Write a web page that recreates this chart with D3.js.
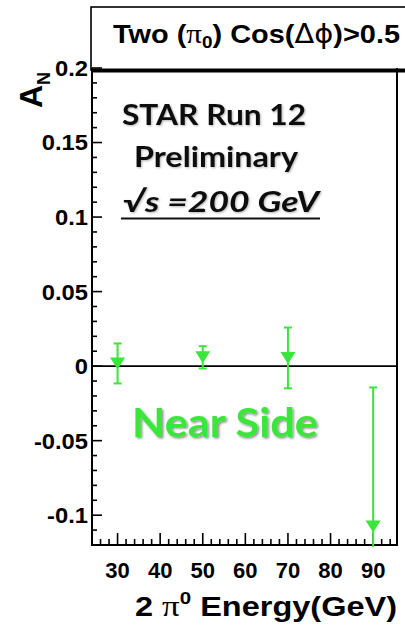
<!DOCTYPE html>
<html>
<head>
<meta charset="utf-8">
<script src="https://cdn.jsdelivr.net/npm/d3@7"></script>
<style>
  html, body { margin: 0; padding: 0; background: #fff; }
  svg { display: block; }
</style>
</head>
<body>
<svg id="chart" width="405" height="627"></svg>
<script>
// Pair energy bins (GeV) and measured asymmetry A_N with statistical errors
const energy = [30, 50, 70, 90];
const asym = [0.0018, 0.0059, 0.0055, -0.1076];
const asymErr = [0.0134, 0.0075, 0.0204, 0.0933];

// Axis ranges and labelled ticks
const xDomain = [24, 95.6];
const yDomain = [-0.12, 0.2];
const xTickLabels = [30, 40, 50, 60, 70, 80, 90];
const yTickLabels = [-0.1, -0.05, 0, 0.05, 0.1, 0.15, 0.2];

const W = 405, H = 627;
const fLeft = 92, fRight = 397, fTop = 68, fBottom = 545;
const green = "#3be63b";
const axisFont = "'Liberation Sans', Arial, sans-serif";
const symFont = "'Liberation Serif', 'DejaVu Serif', serif";
const slideFont = "Lato, 'Open Sans', sans-serif";

const svg = d3.select("#chart");

const x = d3.scaleLinear().domain(xDomain).range([fLeft, fRight]);
const y = d3.scaleLinear().domain(yDomain).range([fBottom, fTop]);

const defs = svg.append("defs");
defs.append("clipPath").attr("id", "plotClip")
  .append("rect").attr("x", fLeft).attr("y", fTop).attr("width", fRight - fLeft).attr("height", fBottom - fTop + 2);
const sh = defs.append("filter").attr("id", "shadow").attr("x", "-10%").attr("y", "-10%").attr("width", "130%").attr("height", "140%");
sh.append("feDropShadow").attr("dx", 1.5).attr("dy", 1.5).attr("stdDeviation", 0.8).attr("flood-color", "#000").attr("flood-opacity", 0.45);
const shLight = defs.append("filter").attr("id", "shadowLight").attr("x", "-10%").attr("y", "-10%").attr("width", "130%").attr("height", "140%");
shLight.append("feDropShadow").attr("dx", 1).attr("dy", 1).attr("stdDeviation", 0.8).attr("flood-color", "#000").attr("flood-opacity", 0.3);

// Title box above the frame
svg.append("rect")
  .attr("x", 91).attr("y", 7).attr("width", 330).attr("height", 63)
  .attr("fill", "#fff").attr("stroke", "#000").attr("stroke-width", 1.6);

const title = svg.append("text")
  .attr("x", 113).attr("y", 43)
  .attr("textLength", 287).attr("lengthAdjust", "spacingAndGlyphs")
  .attr("font-family", axisFont).attr("font-weight", "bold").attr("font-size", 26)
  .attr("fill", "#000");
title.append("tspan").text("Two (");
title.append("tspan").attr("font-family", symFont).attr("font-weight", "normal").attr("font-size", 28).text("π");
title.append("tspan").attr("font-size", 17).attr("dy", 5).text("0");
title.append("tspan").attr("dy", -5).text(") Cos(");
title.append("tspan").attr("font-family", "'DejaVu Sans', sans-serif").attr("font-weight", "normal").text("Δϕ");
title.append("tspan").text(")>0.5");

// Frame: left and bottom axes, right border, zero line
const frame = svg.append("g").attr("stroke", "#000").attr("fill", "none");
frame.append("line").attr("x1", fLeft).attr("x2", fLeft).attr("y1", fTop).attr("y2", fBottom + 1).attr("stroke-width", 2);
frame.append("line").attr("x1", fLeft - 1).attr("x2", fRight + 1).attr("y1", fBottom).attr("y2", fBottom).attr("stroke-width", 2);
frame.append("line").attr("x1", fRight).attr("x2", fRight).attr("y1", fTop).attr("y2", fBottom + 1).attr("stroke-width", 2);
frame.append("line").attr("x1", fLeft).attr("x2", fRight).attr("y1", y(0)).attr("y2", y(0)).attr("stroke-width", 1.6);
svg.append("line").attr("x1", 91).attr("x2", W).attr("y1", 70.5).attr("y2", 70.5)
  .attr("stroke", "#000").attr("stroke-width", 4);

// Y ticks: majors every 0.05, minors every 0.01, pointing into the frame
const yMinor = d3.range(-12, 21).map(i => i / 100);
const yAxis = svg.append("g").attr("stroke", "#000").attr("stroke-width", 1.6);
yAxis.selectAll("line").data(yMinor).join("line")
  .attr("x1", fLeft).attr("x2", d => fLeft + (Math.abs(Math.round(d * 100)) % 5 === 0 ? 10 : 5))
  .attr("y1", d => y(d)).attr("y2", d => y(d));
svg.append("g").selectAll("text").data(yTickLabels).join("text")
  .attr("transform", d => `translate(${fLeft - 4},${y(d)}) scale(1.08,1)`)
  .attr("dy", "0.36em").attr("text-anchor", "end")
  .attr("font-family", axisFont).attr("font-weight", "bold").attr("font-size", 22)
  .text(d => d === 0 ? "0" : String(d));

// X ticks: majors every 10 GeV, minors every 2 GeV
const xMinor = d3.range(26, 96, 2);
const xAxis = svg.append("g").attr("stroke", "#000").attr("stroke-width", 1.6);
xAxis.selectAll("line").data(xMinor).join("line")
  .attr("x1", d => x(d)).attr("x2", d => x(d))
  .attr("y1", fBottom).attr("y2", d => fBottom - (d % 10 === 0 ? 12 : 6));
svg.append("g").selectAll("text").data(xTickLabels).join("text")
  .attr("x", d => x(d)).attr("y", 578)
  .attr("text-anchor", "middle")
  .attr("font-family", axisFont).attr("font-weight", "bold").attr("font-size", 22)
  .text(d => d);

// Axis titles
const xt = svg.append("text").attr("x", 135).attr("y", 616)
  .attr("textLength", 262).attr("lengthAdjust", "spacingAndGlyphs")
  .attr("font-family", axisFont).attr("font-weight", "bold").attr("font-size", 27);
xt.append("tspan").text("2 ");
xt.append("tspan").attr("font-family", symFont).attr("font-weight", "normal").attr("font-size", 29).text("π");
xt.append("tspan").attr("font-size", 17).attr("dy", -12).text("0");
xt.append("tspan").attr("dy", 12).text(" Energy(GeV)");

const yt = svg.append("text").attr("transform", "translate(42,108) rotate(-90)")
  .attr("font-family", axisFont).attr("font-weight", "bold").attr("font-size", 32);
yt.append("tspan").text("A");
yt.append("tspan").attr("font-size", 18).attr("dy", 8).text("N");

// Slide annotations
const ann = svg.append("g").attr("font-family", slideFont).attr("fill", "#111").attr("font-weight", "bold");
ann.append("text").attr("x", 122).attr("y", 125).attr("font-size", 28)
  .attr("textLength", 184).attr("lengthAdjust", "spacingAndGlyphs")
  .attr("filter", "url(#shadowLight)").text("STAR Run 12");
ann.append("text").attr("x", 134).attr("y", 167).attr("font-size", 28)
  .attr("textLength", 164).attr("lengthAdjust", "spacingAndGlyphs")
  .attr("filter", "url(#shadowLight)").text("Preliminary");
ann.append("text").attr("x", 123).attr("y", 212).attr("font-size", 29)
  .attr("font-style", "italic")
  .attr("textLength", 196).attr("lengthAdjust", "spacingAndGlyphs")
  .attr("filter", "url(#shadowLight)").text("√s =200 GeV");
svg.append("line").attr("x1", 121).attr("x2", 320).attr("y1", 218.5).attr("y2", 218.5)
  .attr("stroke", "#111").attr("stroke-width", 2.2);
ann.append("text").attr("x", 132).attr("y", 437).attr("font-size", 40)
  .attr("textLength", 186).attr("lengthAdjust", "spacingAndGlyphs")
  .attr("fill", green).attr("filter", "url(#shadow)").text("Near Side");

// Data points with error bars
const pts = energy.map((e, i) => ({ e, v: asym[i], err: asymErr[i] }));
const marks = svg.append("g").attr("clip-path", "url(#plotClip)");
marks.selectAll("line.err").data(pts).join("line").attr("class", "err")
  .attr("x1", d => x(d.e)).attr("x2", d => x(d.e))
  .attr("y1", d => y(d.v + d.err)).attr("y2", d => y(d.v - d.err))
  .attr("stroke", green).attr("stroke-width", 2);
marks.selectAll("g.cap").data(pts).join("g").attr("class", "cap")
  .each(function(d) {
    const g = d3.select(this);
    [d.v + d.err, d.v - d.err].forEach(v => {
      g.append("line").attr("x1", x(d.e) - 4).attr("x2", x(d.e) + 4)
        .attr("y1", y(v)).attr("y2", y(v)).attr("stroke", green).attr("stroke-width", 2);
    });
  });
const tri = d3.line();
marks.selectAll("path.pt").data(pts).join("path").attr("class", "pt")
  .attr("d", d => {
    const cx = x(d.e), cy = y(d.v);
    return tri([[cx - 7.5, cy - 6], [cx + 7.5, cy - 6], [cx, cy + 6]]) + "Z";
  })
  .attr("fill", green);
</script>
</body>
</html>
